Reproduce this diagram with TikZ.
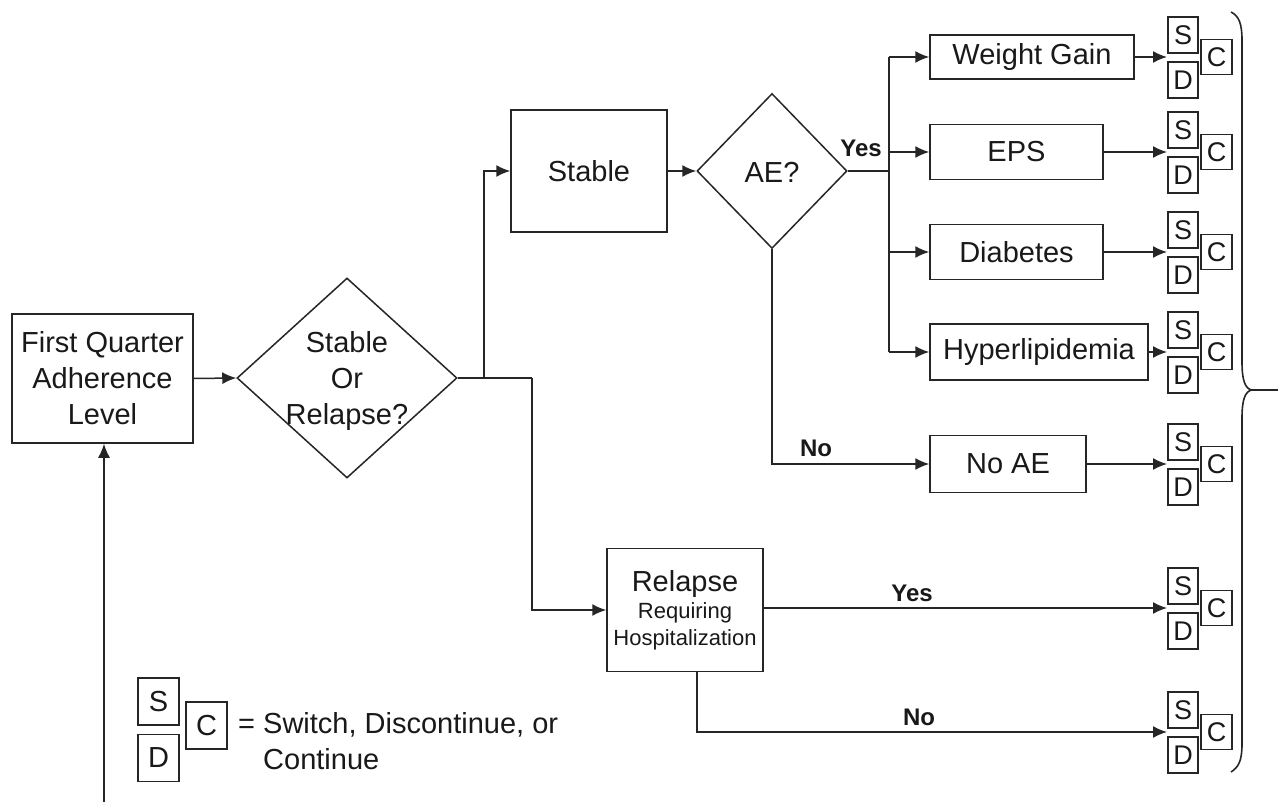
\documentclass[tikz,border=0pt]{standalone}
\usepackage{fontspec}
\setmainfont{Liberation Sans}
\usetikzlibrary{shapes.geometric,arrows.meta}
\begin{document}
\begin{tikzpicture}[x=1pt,y=-1pt,
  ln/.style={draw=black!85, line width=1.5pt},
  arr/.style={ln, -{Latex[length=14pt,width=12pt]}},
  box/.style={draw=black!85, line width=1.5pt, rectangle, inner sep=0pt, align=center, font=\fontsize{29}{36}\selectfont, text=black!90},
  dmd/.style={draw=black!85, line width=1.5pt, diamond, inner sep=0pt},
  txt/.style={align=center, font=\fontsize{29}{36}\selectfont, inner sep=0pt, text=black!90},
  lbl/.style={font=\bfseries\fontsize{24}{28}\selectfont, inner sep=0pt, text=black!90},
  sb/.style={draw=black!85, line width=1.4pt, inner sep=0pt, minimum width=30pt, minimum height=36pt, font=\fontsize{27}{28}\selectfont, text=black!90},
  lb/.style={draw=black!85, line width=1.4pt, inner sep=0pt, minimum width=41pt, minimum height=47pt, font=\fontsize{29}{30}\selectfont, text=black!90}
]
\path[use as bounding box, fill=white] (0,0) rectangle (1278,802);

% main nodes
\node[box, minimum width=181pt, minimum height=129pt] (fa) at (102.5,378.5) {First Quarter\\Adherence\\Level};
\node[dmd, minimum width=220pt, minimum height=200pt] (sor) at (347,378) {};
\node[txt] (sortxt) at (347,381) {Stable\\Or\\Relapse?};
\node[box, minimum width=156pt, minimum height=122pt] (stable) at (589,171) {Stable};
\node[dmd, minimum width=150pt, minimum height=155pt] (ae) at (772,171) {};
\node[txt] (aetxt) at (772,172) {AE?};
\node[box, minimum width=204pt, minimum height=44pt] (wg) at (1032,57) {Weight Gain};
\node[box, minimum width=173pt, minimum height=55pt] (eps) at (1016.5,152) {EPS};
\node[box, minimum width=173pt, minimum height=55pt] (diab) at (1016.5,252) {Diabetes};
\node[box, minimum width=218pt, minimum height=56pt] (hyp) at (1039,352) {Hyperlipidemia};
\node[box, minimum width=156pt, minimum height=57pt] (noae) at (1008,464) {No AE};
\node[box, minimum width=156pt, minimum height=123pt, font=\fontsize{22}{27}\selectfont] (rel) at (685,610) {{\fontsize{29}{32}\selectfont Relapse}\\Requiring\\Hospitalization};

% S/D/C groups
\foreach \i/\y in {1/57,2/152,3/252,4/352,5/464,6/608,7/732}{
  \node[sb] (s\i) at (1183,\y-22) {S};
  \node[sb] (d\i) at (1183,\y+23) {D};
  \node[sb, minimum width=31pt, minimum height=35pt] (c\i) at (1216.5,\y) {C};
  \coordinate (in\i) at (1167,\y);
}

% connectors
\coordinate (j1) at (484,378);
\coordinate (j2) at (532,378);
\coordinate (j3) at (889,171);
\draw[arr] (fa.east) -- (sor.west);
\draw[ln] (sor.east) -- (j2);
\draw[arr] (j1) |- (stable.west);
\draw[arr] (j2) |- (rel.west);
\draw[arr] (stable.east) -- (ae.west);
\draw[ln] (ae.east) -- (j3);
\draw[ln] (j3 |- wg.west) -- (j3 |- hyp.west);
\foreach \n in {wg,eps,diab,hyp} \draw[arr] (j3 |- \n.west) -- (\n.west);
\draw[arr] (ae.south) |- (noae.west);
\draw[arr] (wg.east) -- (in1);
\draw[arr] (eps.east) -- (in2);
\draw[arr] (diab.east) -- (in3);
\draw[arr] (hyp.east) -- (in4);
\draw[arr] (noae.east) -- (in5);
\draw[arr] (rel.east |- in6) -- (in6);
\draw[arr] ([xshift=12pt]rel.south) |- (in7);

% labels
\node[lbl] (yes1) at (861,148) {Yes};
\node[lbl] (no1) at (816,448) {No};
\node[lbl] (yes2) at (912,593) {Yes};
\node[lbl] (no2) at (919,717) {No};

% legend
\node[lb] (ls) at (158.5,701.5) {S};
\node[lb] (ld) at (158.5,758) {D};
\node[lb] (lc) at (206.5,725.5) {C};
\node[anchor=west, align=left, font=\fontsize{29}{36}\selectfont, inner sep=0pt, text=black!90] (ltxt) at (238,741) {= Switch, Discontinue, or\\\phantom{= }Continue};

% brace
\coordinate (bt) at (1252,390);
\coordinate (bout) at (1278,390);
\draw[ln, line width=1.6pt] (1231,12) .. controls (1239,16) and (1242,24) .. (1242,40) -- (1242,362) .. controls (1242,380) and (1245,389) .. (bt) .. controls (1245,391) and (1242,400) .. (1242,418) -- (1242,744) .. controls (1242,760) and (1239,767) .. (1231,772);
\draw[ln] (bt) -- (bout);

% incoming loop
\coordinate (lin) at (104,802);
\draw[arr] (lin) -- (lin |- fa.south);
\end{tikzpicture}
\end{document}
